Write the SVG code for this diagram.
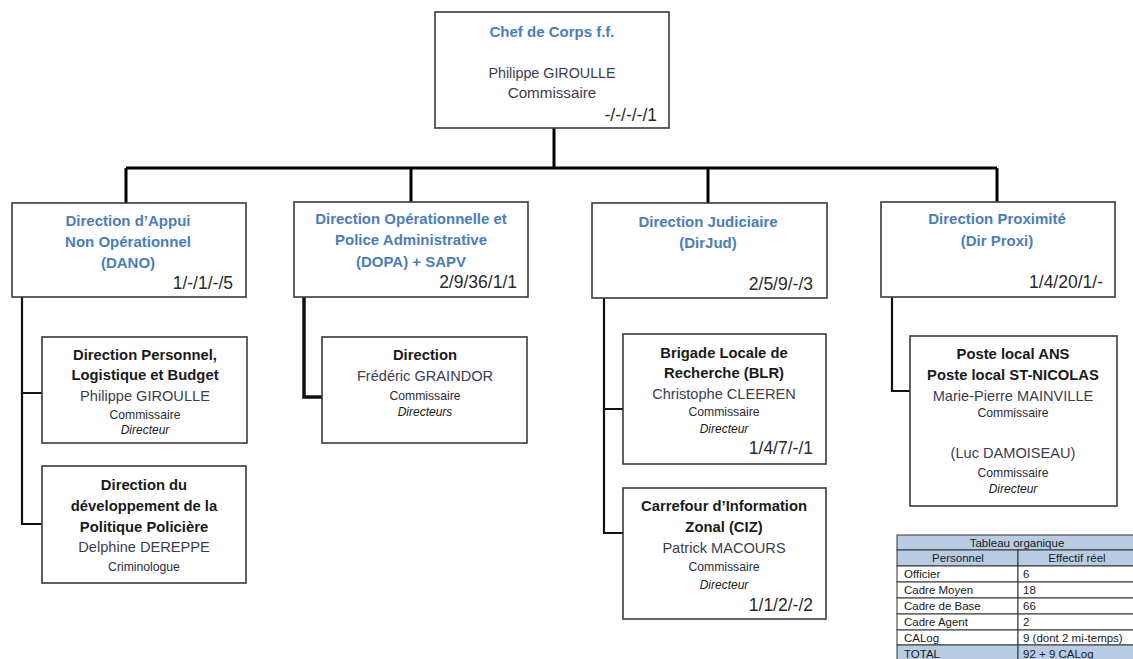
<svg xmlns="http://www.w3.org/2000/svg" width="1133" height="659" viewBox="0 0 1133 659">
  <style>
    .box { fill: #ffffff; stroke: #3a3a3a; stroke-width: 1.6; }
    .bus { fill: none; stroke: #000000; stroke-width: 3; }
    .sub { fill: none; stroke: #111111; stroke-width: 2.2; }
    text { font-family: "Liberation Sans", Arial, sans-serif; }
    .head { font-size: 15px; font-weight: bold; fill: #4a7ebb; text-anchor: middle; }
    .title { font-size: 14.8px; font-weight: bold; fill: #1a1a1a; text-anchor: middle; }
    .name { font-size: 14.6px; fill: #3b3d50; text-anchor: middle; }
    .grade { font-size: 12.2px; fill: #2b2b3b; text-anchor: middle; }
    .role { font-size: 12px; font-style: italic; fill: #1a1a1a; text-anchor: middle; }
    .count { font-size: 17.5px; fill: #2a2a2a; text-anchor: end; }
    .cell { fill: #ffffff; stroke: #333333; stroke-width: 1; }
    .hcell { fill: #b8cce4; stroke: #333333; stroke-width: 1; }
    .tt { font-size: 11.5px; fill: #1a1a1a; }
    .tc { font-size: 11.5px; fill: #1a1a1a; text-anchor: middle; }
  </style>

  <!-- connectors -->
  <g id="connectors">
    <path class="bus" d="M554 128 V168 M126 168 H997 M126 168 V203 M411 168 V202 M708 168 V203 M997 168 V202"/>
    <path class="sub" d="M22 297 V524 H42 M22 393 H42"/>
    <path class="sub" style="stroke-width:3.5" d="M304 297 V397 H322"/>
    <path class="sub" d="M604 298 V533 H623 M604 409 H623"/>
    <path class="sub" d="M892 297 V391 H910"/>
  </g>

  <!-- head of the corps -->
  <g id="chef">
    <rect class="box" x="435" y="12" width="234" height="116"/>
    <text class="head" x="552" y="37">Chef de Corps f.f.</text>
    <text class="name" x="552" y="78" style="font-size:14.3px">Philippe GIROULLE</text>
    <text class="name" x="552" y="98" style="font-size:15.2px">Commissaire</text>
    <text class="count" x="657" y="121">-/-/-/-/1</text>
  </g>

  <!-- directions -->
  <g id="dano">
    <rect class="box" x="12" y="203" width="234" height="94"/>
    <text class="head" x="128" y="226">Direction d’Appui</text>
    <text class="head" x="128" y="247">Non Opérationnel</text>
    <text class="head" x="128" y="268">(DANO)</text>
    <text class="count" x="233" y="289">1/-/1/-/5</text>
  </g>

  <g id="dopa">
    <rect class="box" x="294" y="202" width="234" height="95"/>
    <text class="head" x="411" y="224">Direction Opérationnelle et</text>
    <text class="head" x="411" y="245">Police Administrative</text>
    <text class="head" x="411" y="267">(DOPA) + SAPV</text>
    <text class="count" x="517" y="288">2/9/36/1/1</text>
  </g>

  <g id="dirjud">
    <rect class="box" x="592" y="203" width="235" height="95"/>
    <text class="head" x="708" y="227">Direction Judiciaire</text>
    <text class="head" x="708" y="248">(DirJud)</text>
    <text class="count" x="813" y="290">2/5/9/-/3</text>
  </g>

  <g id="dirproxi">
    <rect class="box" x="881" y="202" width="234" height="95"/>
    <text class="head" x="997" y="224">Direction Proximité</text>
    <text class="head" x="997" y="246">(Dir Proxi)</text>
    <text class="count" x="1103" y="288">1/4/20/1/-</text>
  </g>

  <!-- services -->
  <g id="dplb">
    <rect class="box" x="42" y="337" width="205" height="106"/>
    <text class="title" x="145" y="360">Direction Personnel,</text>
    <text class="title" x="145" y="380">Logistique et Budget</text>
    <text class="name" x="145" y="401">Philippe GIROULLE</text>
    <text class="grade" x="145" y="419">Commissaire</text>
    <text class="role" x="145" y="434">Directeur</text>
  </g>

  <g id="ddpp">
    <rect class="box" x="42" y="466" width="204" height="117"/>
    <text class="title" x="144" y="490">Direction du</text>
    <text class="title" x="144" y="511">développement de la</text>
    <text class="title" x="144" y="532">Politique Policière</text>
    <text class="name" x="144" y="552">Delphine DEREPPE</text>
    <text class="grade" x="144" y="571">Criminologue</text>
  </g>

  <g id="dopa-direction">
    <rect class="box" x="322" y="337" width="205" height="106"/>
    <text class="title" x="425" y="360">Direction</text>
    <text class="name" x="425" y="381">Frédéric GRAINDOR</text>
    <text class="grade" x="425" y="400">Commissaire</text>
    <text class="role" x="425" y="416">Directeurs</text>
  </g>

  <g id="blr">
    <rect class="box" x="623" y="334" width="203" height="130"/>
    <text class="title" x="724" y="358">Brigade Locale de</text>
    <text class="title" x="724" y="378">Recherche (BLR)</text>
    <text class="name" x="724" y="399">Christophe CLEEREN</text>
    <text class="grade" x="724" y="416">Commissaire</text>
    <text class="role" x="724" y="433">Directeur</text>
    <text class="count" x="813" y="454">1/4/7/-/1</text>
  </g>

  <g id="ciz">
    <rect class="box" x="623" y="488" width="203" height="131"/>
    <text class="title" x="724" y="511">Carrefour d’Information</text>
    <text class="title" x="724" y="532">Zonal (CIZ)</text>
    <text class="name" x="724" y="553">Patrick MACOURS</text>
    <text class="grade" x="724" y="571">Commissaire</text>
    <text class="role" x="724" y="589">Directeur</text>
    <text class="count" x="813" y="611">1/1/2/-/2</text>
  </g>

  <g id="postes">
    <rect class="box" x="910" y="336" width="207" height="170"/>
    <text class="title" x="1013" y="359">Poste local ANS</text>
    <text class="title" x="1013" y="380">Poste local ST-NICOLAS</text>
    <text class="name" x="1013" y="401">Marie-Pierre MAINVILLE</text>
    <text class="grade" x="1013" y="417">Commissaire</text>
    <text class="name" x="1013" y="458">(Luc DAMOISEAU)</text>
    <text class="grade" x="1013" y="477">Commissaire</text>
    <text class="role" x="1013" y="493">Directeur</text>
  </g>

  <!-- staffing table -->
  <g id="tableau">
    <rect class="hcell" x="897" y="535" width="240" height="15"/>
    <rect class="hcell" x="897" y="550" width="121" height="16"/>
    <rect class="hcell" x="1018" y="550" width="119" height="16"/>
    <rect class="cell" x="897" y="566" width="121" height="16"/>
    <rect class="cell" x="1018" y="566" width="119" height="16"/>
    <rect class="cell" x="897" y="582" width="121" height="16"/>
    <rect class="cell" x="1018" y="582" width="119" height="16"/>
    <rect class="cell" x="897" y="598" width="121" height="16"/>
    <rect class="cell" x="1018" y="598" width="119" height="16"/>
    <rect class="cell" x="897" y="614" width="121" height="16"/>
    <rect class="cell" x="1018" y="614" width="119" height="16"/>
    <rect class="cell" x="897" y="630" width="121" height="15"/>
    <rect class="cell" x="1018" y="630" width="119" height="15"/>
    <rect class="hcell" x="897" y="645" width="121" height="16"/>
    <rect class="hcell" x="1018" y="645" width="119" height="16"/>
    <text class="tc" x="1017" y="547">Tableau organique</text>
    <text class="tc" x="958" y="562">Personnel</text>
    <text class="tc" x="1077" y="562">Effectif réel</text>
    <text class="tt" x="904" y="578">Officier</text>
    <text class="tt" x="1023" y="578">6</text>
    <text class="tt" x="904" y="594">Cadre Moyen</text>
    <text class="tt" x="1023" y="594">18</text>
    <text class="tt" x="904" y="610">Cadre de Base</text>
    <text class="tt" x="1023" y="610">66</text>
    <text class="tt" x="904" y="626">Cadre Agent</text>
    <text class="tt" x="1023" y="626">2</text>
    <text class="tt" x="904" y="642">CALog</text>
    <text class="tt" x="1023" y="642">9 (dont 2 mi-temps)</text>
    <text class="tt" x="904" y="658">TOTAL</text>
    <text class="tt" x="1023" y="658">92 + 9 CALog</text>
  </g>
</svg>
